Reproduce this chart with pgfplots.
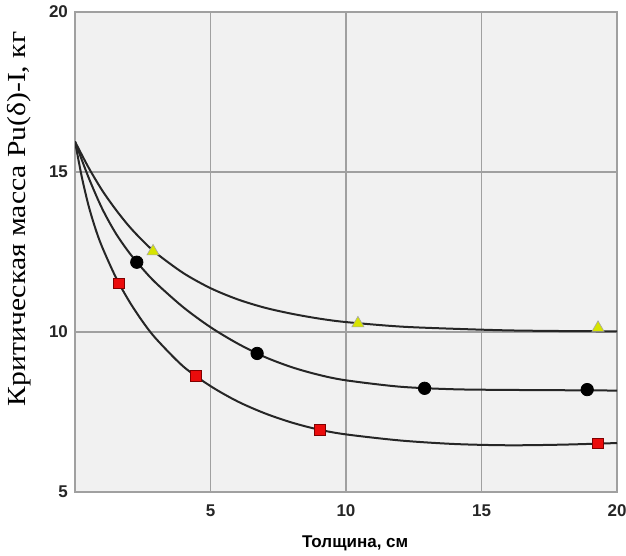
\documentclass[border=0pt]{standalone}
\usepackage{graphicx}
\usepackage{pgfplots}
\pgfplotsset{compat=1.18}
\usepackage{fontspec}
\setmainfont{Liberation Serif}
\newfontfamily\arialf{Liberation Sans}
\definecolor{bgc}{HTML}{F1F1F1}
\definecolor{gridc}{HTML}{A0A0A0}
\definecolor{tri}{RGB}{215,228,0}
\definecolor{sq}{RGB}{235,12,12}
\definecolor{curve}{HTML}{262626}
\begin{document}
\begin{tikzpicture}
\begin{axis}[name=ax, scale only axis, width=271pt, height=240pt,
  xmin=0, xmax=20, ymin=5, ymax=20,
  xtick={5,10,15,20}, ytick={5,10,15,20},
  grid=major, major grid style={gridc, line width=0.6pt},
  axis line style={gridc, line width=0.6pt},
  major tick length=0pt,
  axis background/.style={fill=bgc},
  tick label style={font=\arialf\bfseries\fontsize{8.5}{10}\selectfont, text=black!85},
  /pgf/number format/assume math mode=true,
  xticklabel style={yshift=-3pt},
  xlabel={Толщина, см},
  ylabel={\scalebox{1.14}[1]{Критическая масса Pu(δ)-I, кг}},
  every axis x label/.style={at={(axis description cs:0.517,-0.108)}, anchor=center, font=\arialf\bfseries\fontsize{8.5}{10}\selectfont},
  every axis y label/.style={at={(axis description cs:-0.103,0.569)}, anchor=center, rotate=90, font=\fontsize{13}{15}\selectfont},
]
% curves
\addplot[curve, line width=1pt, smooth, no marks] coordinates {
 (0,15.95) (0.5,15.14) (1,14.43) (1.5,13.83) (2,13.30) (2.5,12.85) (3,12.46) (4,11.84) (5,11.37) (6,11.02) (7,10.76) (8,10.57) (9,10.42) (10,10.31) (12,10.17) (14,10.10) (16,10.05) (18,10.03) (20,10.02)};
\addplot[curve, line width=1pt, smooth, no marks] coordinates {
 (0,15.95) (0.5,14.83) (1,13.86) (1.5,13.09) (2,12.48) (2.5,11.97) (3,11.52) (4,10.77) (5,10.15) (6,9.64) (7,9.22) (8,8.90) (9,8.66) (10,8.49) (12,8.29) (14,8.21) (16,8.19) (18,8.18) (20,8.17)};
\addplot[curve, line width=1pt, smooth, no marks] coordinates {
 (0,15.95) (0.25,14.85) (0.5,13.95) (0.75,13.24) (1,12.66) (1.5,11.72) (2,10.96) (2.5,10.32) (3,9.78) (4,8.92) (5,8.31) (6,7.83) (7,7.46) (8,7.17) (9,6.95) (10,6.80) (12,6.61) (14,6.50) (16,6.46) (18,6.48) (20,6.53)};
% markers
\addplot[only marks, mark=triangle*, mark size=3.5pt, mark options={fill=tri, draw=gray!70, line width=0.3pt}] coordinates {
 (2.88,12.52) (10.44,10.27) (19.3,10.13)};
\addplot[only marks, mark=*, mark size=3.1pt, mark options={fill=black, draw=black}] coordinates {
 (2.28,12.18) (6.72,9.33) (12.9,8.24) (18.9,8.2)};
\addplot[only marks, mark=square*, mark size=2.7pt, mark options={fill=sq, draw=red!50!black, line width=0.3pt}] coordinates {
 (1.63,11.52) (4.47,8.62) (9.02,6.95) (19.3,6.52)};
\end{axis}
\pgfresetboundingbox
\useasboundingbox ([xshift=-37.5pt,yshift=-32pt]ax.south west) rectangle ([xshift=4.5pt,yshift=6pt]ax.north east);
\end{tikzpicture}
\end{document}
